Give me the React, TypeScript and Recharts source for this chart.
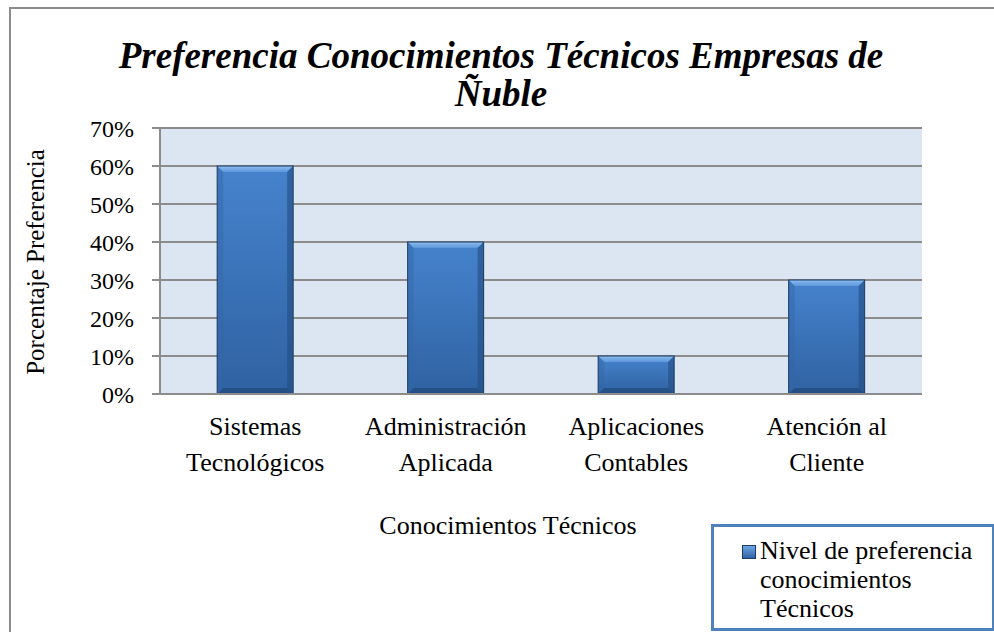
import * as React from "react";
import {
  BarChart,
  Bar,
  XAxis,
  YAxis,
  CartesianGrid,
  Legend,
} from "recharts";

// categories, each split into its two label lines
const CATEGORIES = [
  ["Sistemas", "Tecnológicos"],
  ["Administración", "Aplicada"],
  ["Aplicaciones", "Contables"],
  ["Atención al", "Cliente"],
];
const PREFERENCE = [0.6, 0.4, 0.1, 0.3];
const Y_TICKS = [0, 0.1, 0.2, 0.3, 0.4, 0.5, 0.6, 0.7];

const SERIES_NAME = "Nivel de preferencia conocimientos Técnicos";
const LEGEND_LINES = ["Nivel de preferencia", "conocimientos", "Técnicos"];

const FONT = "'Liberation Serif', 'Times New Roman', serif";
const GRID = "#8C8C8C";

const data = CATEGORIES.map((c, i) => ({
  name: c.join(" "),
  lines: c,
  value: PREFERENCE[i],
}));

// ── Bar with Excel-style bevel ─────────────────────────────────────────

function BevelBar(props: any) {
  const { x, y, width, height } = props;
  if (!height || height <= 0) return null;
  const b = Math.min(6, height / 4, width / 4);
  const r = x + width;
  const btm = y + height;
  return (
    <g>
      <rect x={x} y={y} width={width} height={height} fill="url(#barBody)" />
      <polygon
        points={`${x},${y} ${r},${y} ${r - b},${y + b} ${x + b},${y + b}`}
        fill="url(#barTop)"
      />
      <polygon
        points={`${x},${y} ${x + b},${y + b} ${x + b},${btm - b} ${x},${btm}`}
        fill="#3566A6"
        opacity={0.45}
      />
      <polygon
        points={`${r},${y} ${r - b},${y + b} ${r - b},${btm - b} ${r},${btm}`}
        fill="#234C80"
        opacity={0.6}
      />
      <polygon
        points={`${x},${btm} ${x + b},${btm - b} ${r - b},${btm - b} ${r},${btm}`}
        fill="#1E426F"
        opacity={0.55}
      />
      <rect
        x={x}
        y={y}
        width={width}
        height={height}
        fill="none"
        stroke="#1C3C64"
        strokeWidth={1}
      />
    </g>
  );
}

// ── Two-line category tick ─────────────────────────────────────────────

function CategoryTick(props: any) {
  const { x, y, index } = props;
  const lines = data[index]?.lines ?? [];
  return (
    <text
      x={x}
      y={y}
      textAnchor="middle"
      fontFamily={FONT}
      fontSize={26}
      fill="#000"
    >
      {lines.map((l: string, i: number) => (
        <tspan key={i} x={x} dy={i === 0 ? 33 : 36}>
          {l}
        </tspan>
      ))}
    </text>
  );
}

function LegendBox() {
  return (
    <div
      style={{
        boxSizing: "border-box",
        width: 284,
        height: 107,
        border: "3px solid #4F81BD",
        background: "#fff",
        fontFamily: FONT,
        fontSize: 26,
        lineHeight: "29px",
        padding: "9px 0 0 46px",
        position: "relative",
        color: "#000",
        textAlign: "left",
      }}
    >
      <span
        style={{
          position: "absolute",
          left: 28,
          top: 18,
          width: 12,
          height: 12,
          background: "linear-gradient(#6FA6E4, #2F64A6)",
          border: "1px solid #1C3C64",
        }}
      />
      {LEGEND_LINES.map((l) => (
        <div key={l}>{l}</div>
      ))}
    </div>
  );
}

export default function App() {
  return (
    <div
      style={{
        position: "absolute",
        left: 0,
        top: 0,
        width: 994,
        height: 632,
        background: "#fff",
        overflow: "hidden",
        fontFamily: FONT,
      }}
    >
      {/* outer chart frame */}
      <div
        style={{
          position: "absolute",
          left: 9,
          top: 7,
          width: 1000,
          height: 700,
          borderLeft: `2px solid ${GRID}`,
          borderTop: `2px solid ${GRID}`,
        }}
      />
      <div
        style={{
          position: "absolute",
          left: 0,
          width: 994,
          top: 37,
          textAlign: "center",
          fontWeight: "bold",
          fontStyle: "italic",
          fontSize: 37,
          lineHeight: "38px",
          paddingLeft: 4,
        }}
      >
        Preferencia Conocimientos Técnicos Empresas de
        <br />
        Ñuble
      </div>
      <div
        style={{
          position: "absolute",
          left: 36,
          top: 262,
          transform: "translate(-50%, -50%) rotate(-90deg)",
          whiteSpace: "nowrap",
          fontSize: 25,
        }}
      >
        Porcentaje Preferencia
      </div>
      <div
        style={{
          position: "absolute",
          left: 508,
          top: 526,
          transform: "translate(-50%, -50%)",
          whiteSpace: "nowrap",
          fontSize: 26,
        }}
      >
        Conocimientos Técnicos
      </div>
      <div style={{ position: "absolute", left: 0, top: 0 }}>
        <BarChart
          width={994}
          height={632}
          data={data}
          margin={{ top: 128, right: 72, left: 0, bottom: 158 }}
          barCategoryGap="30%"
        >
          <defs>
            <linearGradient id="barBody" x1="0" y1="0" x2="0" y2="1">
              <stop offset="0%" stopColor="#4683CD" />
              <stop offset="100%" stopColor="#2F62A2" />
            </linearGradient>
            <linearGradient id="barTop" x1="0" y1="0" x2="0" y2="1">
              <stop offset="0%" stopColor="#8DBDF0" />
              <stop offset="100%" stopColor="#5C96DA" />
            </linearGradient>
          </defs>
          <CartesianGrid
            vertical={false}
            fill="#DCE6F2"
            stroke={GRID}
            strokeWidth={2}
          />
          <XAxis
            dataKey="name"
            height={80}
            tick={<CategoryTick />}
            tickLine={false}
            axisLine={{ stroke: GRID, strokeWidth: 2 }}
            interval={0}
          />
          <YAxis
            width={160}
            domain={[0, 0.7]}
            ticks={Y_TICKS}
            tickFormatter={(v: number) => `${Math.round(v * 100)}%`}
            tick={{ fontSize: 24, fill: "#000", fontFamily: FONT }}
            tickSize={8}
            tickMargin={18}
            tickLine={{ stroke: GRID, strokeWidth: 2 }}
            axisLine={{ stroke: GRID, strokeWidth: 2 }}
            interval={0}
          />
          <Legend
            layout="horizontal"
            verticalAlign="middle"
            align="center"
            content={<LegendBox />}
            wrapperStyle={{ left: 711, top: 524, width: 284 }}
          />
          <Bar
            dataKey="value"
            name={SERIES_NAME}
            shape={<BevelBar />}
            isAnimationActive={false}
          />
        </BarChart>
      </div>
    </div>
  );
}
